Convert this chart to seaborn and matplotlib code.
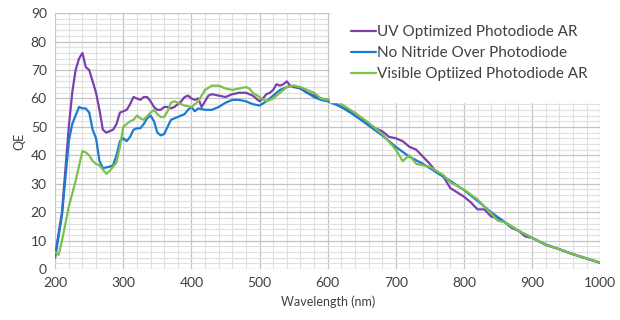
import pandas as pd
import numpy as np
import matplotlib.pyplot as plt
from matplotlib.ticker import MultipleLocator
import seaborn as sns

# series names
names = ["UV Optimized Photodiode AR", "No Nitride Over Photodiode", "Visible Optiized Photodiode AR"]

# UV optimized (purple)
uv_wl = [200, 210, 220, 225, 230, 235, 240, 245, 250, 255, 260, 265, 270, 275, 280, 285, 290, 295,
         300, 305, 310, 315, 320, 325, 330, 335, 340, 345, 350, 355, 360, 365, 370, 375, 380, 385,
         390, 395, 400, 405, 410, 415, 420, 425, 430, 440, 450, 460, 470, 480, 490, 500, 505, 510,
         515, 520, 525, 530, 535, 540, 545, 550, 560, 570, 580, 590, 600, 610, 620, 630, 640, 650,
         660, 670, 680, 690, 700, 710, 720, 730, 740, 750, 760, 770, 780, 790, 800, 810, 820, 830,
         840, 850, 860, 870, 880, 890, 900, 920, 940, 960, 980, 1000]
uv_qe = [5, 20, 50, 62, 70, 74, 76, 71, 70, 66, 62, 56, 49, 48, 48.5, 49, 51, 55,
         55.5, 56, 58, 60.5, 60, 59.5, 60.5, 60.5, 59, 57, 56, 56, 57, 57, 56.5, 57, 58, 59,
         60.5, 61, 60, 59.5, 60, 57, 59, 61, 61.5, 61, 60.5, 61.5, 62, 62, 61, 59, 60, 61.5,
         62, 63, 65, 64.5, 65, 66, 64.5, 64, 63.5, 62, 61, 60, 59.5, 58.5, 57, 56, 54, 52.5,
         51, 49.5, 48.5, 46.5, 46, 45, 43, 42, 39.5, 37, 34, 32.5, 28.5, 27, 25.5, 23.5, 21, 21,
         18.5, 18, 16.5, 14.5, 13.5, 11.5, 11, 8.5, 7, 5.2, 3.7, 2.2]

# no nitride (blue)
nn_wl = [200, 210, 220, 225, 230, 235, 240, 245, 250, 255, 260, 265, 270, 280, 285, 290, 295,
         300, 305, 310, 315, 320, 325, 330, 335, 340, 345, 350, 355, 360, 365, 370, 380, 390,
         395, 400, 405, 410, 420, 430, 440, 450, 460, 470, 480, 490, 500, 510, 520, 530, 540,
         550, 560, 570, 580, 590, 600, 620, 640, 660, 680, 700, 720, 740, 760, 780, 800, 820,
         840, 860, 880, 900, 920, 940, 960, 980, 1000]
nn_qe = [4, 19, 45, 51, 54, 57, 56.5, 56.5, 55, 49, 46, 38, 35.5, 36, 36.5, 40, 45,
         46, 45, 46.5, 49, 49.5, 49.5, 51, 53, 54, 52, 48, 47, 47.5, 50, 52.5, 53.5, 54.5,
         56, 57, 55.5, 56.5, 56, 56, 57, 58.5, 59.5, 59.5, 59, 58, 57.5, 59, 61, 63, 64,
         64.5, 63.5, 62, 60.5, 59.5, 59, 57, 54, 50.5, 47, 43, 39.5, 37, 34, 31, 27.8, 24,
         20, 16.5, 13.5, 11, 8.7, 7, 5.3, 3.8, 2.3]

# visible optimized (green)
vis_wl = [200, 205, 210, 220, 230, 240, 245, 250, 255, 260, 265, 270, 275, 280, 285, 290, 295,
          300, 305, 310, 315, 320, 325, 330, 340, 345, 350, 355, 360, 365, 370, 375, 380, 390,
          400, 410, 420, 430, 440, 450, 460, 470, 480, 485, 490, 500, 510, 520, 530, 540, 550,
          560, 570, 580, 590, 600, 610, 620, 640, 660, 680, 700, 710, 720, 730, 740, 750, 760,
          770, 780, 800, 820, 840, 850, 860, 880, 900, 920, 940, 960, 980, 1000]
vis_qe = [6, 5, 10, 22, 31, 41.5, 41, 40, 38, 37, 36.5, 35, 33.5, 34.5, 36, 37.5, 43,
          50, 51, 52, 52.5, 54, 53, 52.5, 55, 56, 54.5, 53.5, 53.5, 55.5, 58.5, 59, 58.5, 57.5,
          57, 59, 63, 64.5, 64.5, 63.5, 63, 63.5, 64, 63.5, 62, 60.5, 59, 60, 62, 64, 64.5,
          64, 63, 62, 60, 59.5, 60, 58, 55, 51.5, 47.5, 42, 38, 40, 37, 36.5, 36, 34.5,
          33, 30.5, 28, 24.5, 19.5, 17, 16.5, 13.5, 11, 8.6, 7, 5.3, 3.8, 2.3]

df = pd.concat([
    pd.DataFrame({"Wavelength": uv_wl, "QE": uv_qe, "Series": names[0]}),
    pd.DataFrame({"Wavelength": nn_wl, "QE": nn_qe, "Series": names[1]}),
    pd.DataFrame({"Wavelength": vis_wl, "QE": vis_qe, "Series": names[2]}),
])

colors = ["#7B3FB0", "#1B7BD0", "#7DC04A"]

sns.set_style("white")
plt.rcParams['font.family'] = ['Lato', 'DejaVu Sans']

fig = plt.figure(figsize=(6.2, 3.2), dpi=100)
ax = fig.add_axes([0.089, 0.159, 0.879, 0.8])

sns.lineplot(data=df, x="Wavelength", y="QE", hue="Series", palette=colors,
             linewidth=1.6, ax=ax, sort=False)

ax.set_xlim(200, 1000)
ax.set_ylim(0, 90)
ax.xaxis.set_major_locator(MultipleLocator(100))
ax.xaxis.set_minor_locator(MultipleLocator(20))
ax.yaxis.set_major_locator(MultipleLocator(10))
ax.yaxis.set_minor_locator(MultipleLocator(2))
ax.grid(which='major', color='#C4C4C4', linewidth=0.9)
ax.grid(which='minor', color='#E0E0E0', linewidth=0.8)
ax.set_axisbelow(True)
for s in ax.spines.values():
    s.set_visible(False)
ax.tick_params(which='both', length=0, colors='#404040', labelsize=10, pad=6)
ax.set_xlabel("Wavelength (nm)", fontsize=9, color='#404040')
ax.set_ylabel("QE", fontsize=9, color='#404040')

leg = ax.legend(loc='upper right', bbox_to_anchor=(1.0, 1.0), frameon=True, fontsize=11,
                handlelength=1.6, handletextpad=0.1, borderpad=0.6, labelspacing=0.45,
                borderaxespad=0.2)
leg.get_frame().set_facecolor('white')
leg.get_frame().set_edgecolor('white')
leg.get_frame().set_alpha(1)
leg.get_frame().set_boxstyle('square', pad=0.8)
for t in leg.get_texts():
    t.set_color('#404040')

plt.savefig("out.png", dpi=100)
